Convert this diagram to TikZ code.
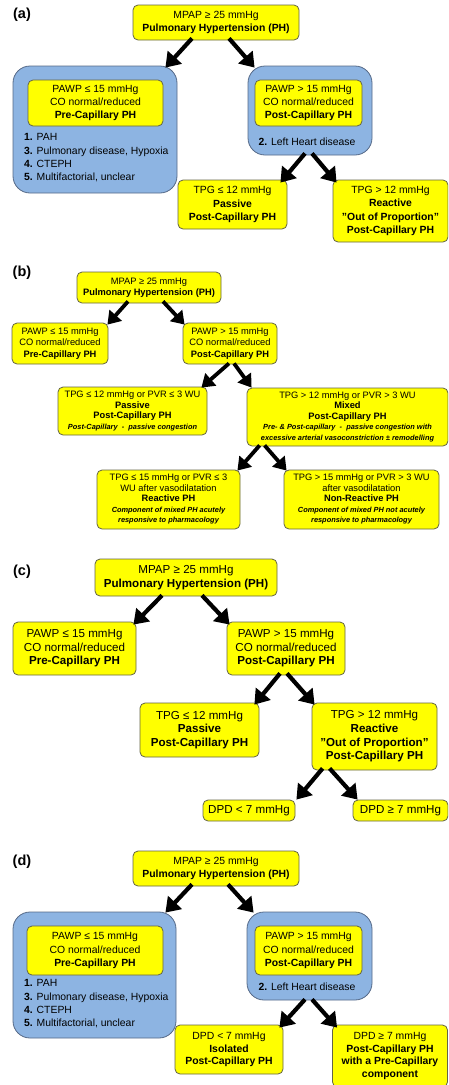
\documentclass[tikz,border=0pt]{standalone}
\usepackage{fontspec}
\setmainfont{Liberation Sans}
\usetikzlibrary{arrows.meta,calc}
\definecolor{yfill}{RGB}{255,255,0}
\definecolor{ybord}{RGB}{100,100,70}
\definecolor{bfill}{RGB}{141,180,226}
\definecolor{bbord}{RGB}{85,105,135}
\newcommand\fa{\fontsize{10.4}{13.3}\selectfont}
\newcommand\fbt{\fontsize{9.3}{11.3}\selectfont}
\newcommand\fbs{\fontsize{9.3}{10.5}\selectfont}
\newcommand\fbi{\fontsize{7.4}{10.5}\selectfont\bfseries\itshape}
\newcommand\fc{\fontsize{11.6}{13.7}\selectfont}
\newcommand\fd{\fontsize{10.4}{12.6}\selectfont}
\tikzset{
  ybox/.style={draw=ybord, fill=yfill, rounded corners=5pt, line width=0.8pt, align=center, inner sep=0pt, text=black},
  bbox/.style={draw=bbord, fill=bfill, rounded corners=17pt, line width=0.8pt, inner sep=0pt},
  arr/.style={line width=4.2pt, -{Triangle[length=14pt,width=18.5pt]}},
  arrs/.style={line width=3.8pt, -{Triangle[length=12.5pt,width=16pt]}},
  plabel/.style={font=\fontsize{14.5}{16}\selectfont\bfseries, inner sep=0pt},
  listtxt/.style={font=\fa, align=left, anchor=north west, inner sep=0pt},
}
\begin{document}
\begin{tikzpicture}[x=1pt,y=-1pt]
\fill[white] (0,0) rectangle (448,1085);
\useasboundingbox (0,0) rectangle (448,1085);
\clip (0,0) rectangle (448,1085);

% ---------------- (a)
\node[plabel] (la) at (22,15) {(a)};
\node[ybox, font=\fa, minimum width=166pt, minimum height=35pt] (a0) at (216,22.5) {MPAP ≥ 25 mmHg\\\textbf{Pulmonary Hypertension (PH)}};
\node[bbox, minimum width=164pt, minimum height=127pt] (a1) at (95,129.5) {};
\node[ybox, font=\fa, minimum width=135pt, minimum height=46pt] (a1y) at (95.5,103) {PAWP ≤ 15 mmHg\\CO normal/reduced\\\textbf{Pre-Capillary PH}};
\node[listtxt] (a1l) at (24,133.5) {\textbf{1.} PAH\\\textbf{3.} Pulmonary disease, Hypoxia\\\textbf{4.} CTEPH\\\textbf{5.} Multifactorial, unclear};
\node[bbox, minimum width=124pt, minimum height=89pt] (a2) at (310,110.5) {};
\node[ybox, font=\fa, minimum width=107pt, minimum height=46pt] (a2y) at (308.5,103) {PAWP > 15 mmHg\\CO normal/reduced\\\textbf{Post-Capillary PH}};
\node[font=\fa, inner sep=0pt] (a2l) at (307,142) {\textbf{2.} Left Heart disease};
\node[ybox, font=\fa, minimum width=109pt, minimum height=49pt] (a3) at (232.5,204.5) {TPG ≤ 12 mmHg\\\textbf{Passive}\\\textbf{Post-Capillary PH}};
\node[ybox, font=\fa, minimum width=115pt, minimum height=62pt] (a4) at (390.5,211) {TPG > 12 mmHg\\\textbf{Reactive}\\\textbf{"Out of Proportion"}\\\textbf{Post-Capillary PH}};
\draw[arr] ($(a0.south)+(-24,-2)$) -- ($(a1.north east)+(-12,2)$);
\draw[arr] ($(a0.south)+(13,-2)$) -- ($(a2.north west)+(7,2)$);
\draw[arr] ($(a2.south)+(-5,-2)$) -- ($(a3.north east)+(-7,3)$);
\draw[arr] ($(a2.south)+(2,-2)$) -- ($(a4.north west)+(4,3)$);

% ---------------- (b)
\node[plabel] (lb) at (22,273) {(b)};
\node[ybox, font=\fbt, minimum width=144pt, minimum height=31pt] (b0) at (149,287.5) {MPAP ≥ 25 mmHg\\\textbf{Pulmonary Hypertension (PH)}};
\node[ybox, font=\fbt, minimum width=96pt, minimum height=41pt] (b1) at (60,343.5) {PAWP ≤ 15 mmHg\\CO normal/reduced\\\textbf{Pre-Capillary PH}};
\node[ybox, font=\fbt, minimum width=94pt, minimum height=41pt] (b2) at (230,343.5) {PAWP > 15 mmHg\\CO normal/reduced\\\textbf{Post-Capillary PH}};
\node[ybox, font=\fbs, minimum width=149pt, minimum height=48pt] (b3) at (132.5,411) {TPG ≤ 12 mmHg or PVR ≤ 3 WU\\\textbf{Passive}\\\textbf{Post-Capillary PH}\\{\fbi Post-Capillary\ \ -\ \ passive congestion}};
\node[ybox, font=\fbs, minimum width=201pt, minimum height=58pt] (b4) at (347.5,417) {TPG > 12 mmHg or PVR > 3 WU\\\textbf{Mixed}\\\textbf{Post-Capillary PH}\\{\fbi Pre- \& Post-capillary\ \ -\ \ passive congestion with}\\{\fbi excessive arterial vasoconstriction ± remodelling}};
\node[ybox, font=\fbs, minimum width=143pt, minimum height=59pt] (b5) at (168.5,499.5) {TPG ≤ 15 mmHg or PVR ≤ 3\\WU after vasodilatation\\\textbf{Reactive PH}\\{\fbi Component of mixed PH acutely}\\{\fbi responsive to pharmacology}};
\node[ybox, font=\fbs, minimum width=155pt, minimum height=59pt] (b6) at (361.5,499.5) {TPG > 15 mmHg or PVR > 3 WU\\after vasodilatation\\\textbf{Non-Reactive PH}\\{\fbi Component of mixed PH not acutely}\\{\fbi responsive to pharmacology}};
\draw[arrs] ($(b0.south)+(-21,-2)$) -- ($(b1.north east)+(-1,2)$);
\draw[arrs] ($(b0.south)+(14,-2)$) -- ($(b2.north west)+(2,2)$);
\draw[arrs] ($(b2.south)+(-1,-1)$) -- ($(b3.north east)+(-6,1)$);
\draw[arrs] ($(b2.south)+(4,-1)$) -- ($(b4.north west)+(5,0)$);
\draw[arrs] ($(b4.south west)+(13,-1)$) -- ($(b5.north east)+(-3,1)$);
\draw[arrs] ($(b4.south west)+(18,-1)$) -- ($(b6.north west)+(3,1)$);

% ---------------- (c)
\node[plabel] (lc) at (22,572) {(c)};
\node[ybox, font=\fc, minimum width=182pt, minimum height=37pt] (c0) at (186,577.5) {MPAP ≥ 25 mmHg\\\textbf{Pulmonary Hypertension (PH)}};
\node[ybox, font=\fc, minimum width=123pt, minimum height=53pt] (c1) at (74.5,648.5) {PAWP ≤ 15 mmHg\\CO normal/reduced\\\textbf{Pre-Capillary PH}};
\node[ybox, font=\fc, minimum width=118pt, minimum height=53pt] (c2) at (286,648.5) {PAWP > 15 mmHg\\CO normal/reduced\\\textbf{Post-Capillary PH}};
\node[ybox, font=\fc, minimum width=119pt, minimum height=54pt] (c3) at (199.5,730) {TPG ≤ 12 mmHg\\\textbf{Passive}\\\textbf{Post-Capillary PH}};
\node[ybox, font=\fc, minimum width=125pt, minimum height=67pt] (c4) at (374.5,736.5) {TPG > 12 mmHg\\\textbf{Reactive}\\\textbf{"Out of Proportion"}\\\textbf{Post-Capillary PH}};
\node[ybox, font=\fc, minimum width=92pt, minimum height=21pt] (c5) at (249,810.5) {DPD < 7 mmHg};
\node[ybox, font=\fc, minimum width=95pt, minimum height=21pt] (c6) at (400.5,810.5) {DPD ≥ 7 mmHg};
\draw[arr] ($(c0.south)+(-24,-1)$) -- ($(c1.north east)+(-3,3)$);
\draw[arr] ($(c0.south)+(16,-1)$) -- ($(c2.north west)+(3,3)$);
\draw[arr] ($(c2.south)+(-6,-2)$) -- ($(c3.north east)+(-5,2)$);
\draw[arr] ($(c2.south)+(1,-2)$) -- ($(c4.north west)+(3,2)$);
\draw[arr] ($(c4.south west)+(11,-2)$) -- ($(c5.north east)+(1,0)$);
\draw[arr] ($(c4.south west)+(18,-2)$) -- ($(c6.north west)+(5,0)$);

% ---------------- (d)
\node[plabel] (ld) at (22,862) {(d)};
\node[ybox, font=\fa, minimum width=166pt, minimum height=35pt] (d0) at (216,868.5) {MPAP ≥ 25 mmHg\\\textbf{Pulmonary Hypertension (PH)}};
\node[bbox, minimum width=163pt, minimum height=126pt] (d1) at (94.5,975) {};
\node[ybox, font=\fa, minimum width=136pt, minimum height=49pt] (d1y) at (95,950.5) {PAWP ≤ 15 mmHg\\CO normal/reduced\\\textbf{Pre-Capillary PH}};
\node[listtxt] (d1l) at (24,979.5) {\textbf{1.} PAH\\\textbf{3.} Pulmonary disease, Hypoxia\\\textbf{4.} CTEPH\\\textbf{5.} Multifactorial, unclear};
\node[bbox, minimum width=125pt, minimum height=88pt] (d2) at (309.5,956) {};
\node[ybox, font=\fa, minimum width=107pt, minimum height=49pt] (d2y) at (308.5,950.5) {PAWP > 15 mmHg\\CO normal/reduced\\\textbf{Post-Capillary PH}};
\node[font=\fa, inner sep=0pt] (d2l) at (307,987) {\textbf{2.} Left Heart disease};
\node[ybox, font=\fd, minimum width=108pt, minimum height=49pt] (d3) at (229,1049.5) {DPD < 7 mmHg\\\textbf{Isolated}\\\textbf{Post-Capillary PH}};
\node[ybox, font=\fd, minimum width=115pt, minimum height=62pt] (d4) at (390,1056) {DPD ≥ 7 mmHg\\\textbf{Post-Capillary PH}\\\textbf{with a Pre-Capillary}\\\textbf{component}};
\draw[arr] ($(d0.south)+(-24,-2)$) -- ($(d1.north east)+(-11,1)$);
\draw[arr] ($(d0.south)+(12,-2)$) -- ($(d2.north west)+(7,1)$);
\draw[arr] ($(d2.south)+(-4.5,-1)$) -- ($(d3.north east)+(-4,3)$);
\draw[arr] ($(d2.south)+(2.5,-1)$) -- ($(d4.north west)+(5,3)$);
\end{tikzpicture}
\end{document}
